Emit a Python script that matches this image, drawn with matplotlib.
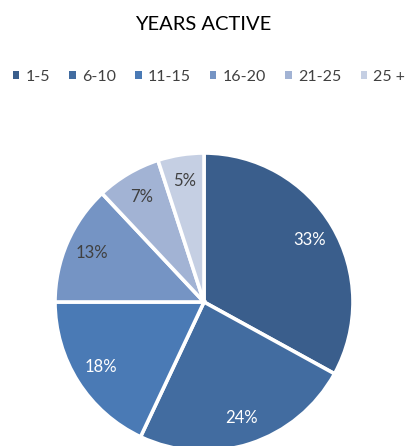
import matplotlib.pyplot as plt

plt.rcParams['font.family'] = ['Lato', 'DejaVu Sans']

labels = ['1-5', '6-10', '11-15', '16-20', '21-25', '25 +']
shares = [33, 24, 18, 13, 7, 5]
colors = ['#3a5e8c', '#426ca0', '#4a7ab5', '#7594c4', '#a2b3d4', '#c5cfe3']
text_colors = ['white', 'white', 'white', '#404040', '#404040', '#404040']

fig = plt.figure(figsize=(4.06, 4.46), dpi=100)

# pie area, slightly cut at the bottom edge
ax = fig.add_axes([55 / 406, -5 / 446, 298 / 406, 298 / 446])
wedges, texts, autotexts = ax.pie(
    shares, colors=colors, startangle=90, counterclock=False,
    autopct='%d%%', pctdistance=0.82,
    wedgeprops=dict(edgecolor='white', linewidth=2.6),
    textprops=dict(fontsize=12))
for t, c in zip(autotexts, text_colors):
    t.set_color(c)
ax.set_xlim(-1, 1)
ax.set_ylim(-1, 1)
ax.set_aspect('equal')
ax.axis('off')

fig.text(0.5, 1 - 24 / 446, 'YEARS ACTIVE', ha='center', va='center',
         fontsize=14.5, color='black')

fig.legend(wedges, labels, loc='center', bbox_to_anchor=(209 / 406, 1 - 77 / 446),
           ncol=6, frameon=False, fontsize=11.5, handlelength=0.4,
           handleheight=0.4, handletextpad=0.4, columnspacing=1.2,
           borderpad=0, borderaxespad=0, labelcolor='#404040')
for h in fig.legends[0].legend_handles:
    h.set_edgecolor('none')

fig.savefig('out.png', dpi=100)
